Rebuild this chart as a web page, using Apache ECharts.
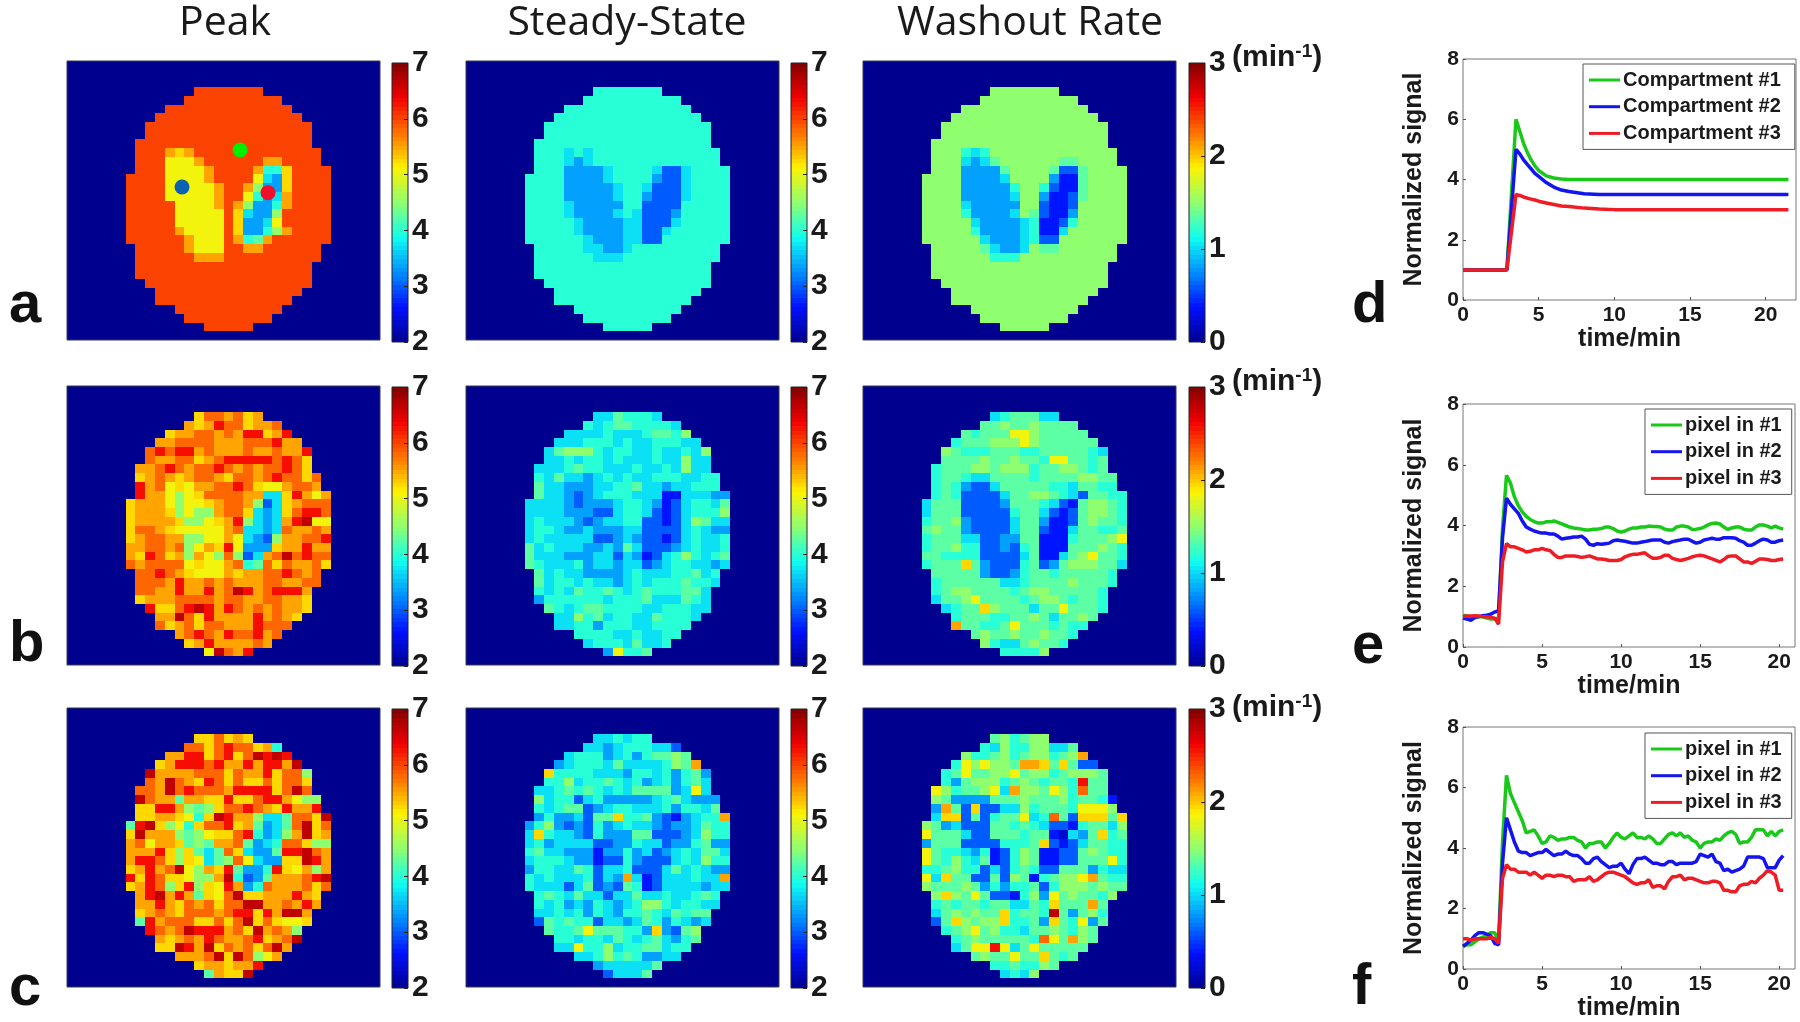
<!DOCTYPE html>
<html>
<head>
<meta charset="utf-8">
<title>Peak, steady-state and washout maps</title>
<script src="https://cdn.jsdelivr.net/npm/echarts@6/dist/echarts.min.js"></script>
<style>
	html, body { margin: 0; padding: 0; background: #fff; }
	#main { width: 1800px; height: 1022px; filter: blur(0.6px); }
</style>
</head>
<body>
<div id="main"></div>
<script>
// map rows: each char is a level code (see levelFractions), '.' is outside the head
// rows start at matrix row 3, columns at matrix column 6, the matrix is 32x32
var levelCodes = '0123456789abcdefg';
var levelFractions = [0, 0.07, 0.13, 0.2, 0.27, 0.34, 0.4, 0.45, 0.5, 0.61, 0.65, 0.7, 0.76, 0.86, 0.93, 1, 0.8];

var peakA = [
	'.......ggggggg.......', '......gggggggggg.....', '....ggggggggggggg....', '...ggggggggggggggg...',
	'..ggggggggggggggggg..', '..ggggggggggggggggg..', '.gggggggggggggggggg..', '.gggbabggggggggggggg.',
	'.ggg999bggggggbbgggg.', '.ggg9999bggggb66agggg', 'gggg9999bgggg954agggg', 'gggg99999bggb844agggg',
	'gggg99999bgg9645bgggg', 'ggggg9999bgb8446bgggg', 'ggggg99999ga5448ggggg', 'ggggg99999ga4459ggggg',
	'gggggb9999ga4468bgggg', 'ggggggb999gb67bgggggg', '.gggggb999ggbbgggggg.', '.ggggggbbbgggggggggg.',
	'.gggggggggggggggggg..', '.gggggggggggggggggg..', '..ggggggggggggggggg..', '...ggggggggggggggg...',
	'...gggggggggggggg....', '.....ggggggggggg.....', '......ggggggggg......', '........ggggg........'
];
var peakB = [
	'.......accbcab.......', '......babdccabbc.....', '....abbccbcbddabd....', '...bbccccbbbcccdbb...',
	'..cdcddbcbbbcbbcbbd..', '..cbbccabcdddddcdca..', '.bbcdcbccdcbcbccdca..', '.abcbabccbaccbcdccac.',
	'.dbc9a9bbccdca99bccb.', '.dbb989accccbb55adb9b', 'abbb9899abccb835abccc', 'abbba8988bcca545acddc',
	'abbbba889abd8545bde99', 'accba99999bc5545cbbcb', 'abccbb8899b95438bbccd', 'bbccbc89bad9444abbdbb',
	'badcab8b98c835bcecdcc', 'cbcccc9a99bc67cacbbca', '.ccdcba999babbccdcbc.', '.cccbdbbcbcbbbccbbcc.',
	'.ccbbdbbdbcedbcdddb..', '.abbbccccbccbbccbba..', '..daacdedbdcbcbcbba..', '...bbecadbbbbdbcba...',
	'...cabcaccbbbdccc....', '.....bcdcbdccdbc.....', '......abdbbbbcb......', '........9ecbd........'
];
var peakC = [
	'.......aacaba........', '......ccacdccab6.....', '....bbddacdaceded....', '...abdddcdbbdbddbe...',
	'..ebbbbcccacbbdacc8..', '..cbecbadcacaacacca..', '.ccbecdcccbddddacec..', '.ecbb7bbaadaacddb988.',
	'.aaddb878accdcbadbbd.', '.aabba96aedbb8557ccae', '7dea896accdab7457ceac', 'aebbb8789aacd6458beab',
	'bc9bba787bbc7456cca88', 'bbbda8a757ca5447ddecb', 'bddca8a9578c9544aaedb', 'abdbce98bad7446da9b8b',
	'dadcaa988be6347bbbcde', 'abdc8ad8a9db46cbbbcac', '.bdebdb7a9ceaabbbdba.', '.bbdbacbcacceebbcbdb.',
	'.abcbacccbcddadbeeb..', '.7dbcccaacaceaca99a..', '..dcbcedddbcaebcb8...', '...babcbdcbbcdabce...',
	'...aaedbeacbcaceb....', '.....bbbceaec89b.....', '.......abbabbd.......', '........7baae........'
];
var steadyA = [
	'.......6666666.......', '......6666666666.....', '....6666666666666....', '...666666666666666...',
	'..66666666666666666..', '..66666666666666666..', '.666666666666666666..', '.6665656666666666666.',
	'.6665456666666666666.', '.66644445666653356666', '666644445666643356666', '666644444566533356666',
	'666644444566433356666', '666654444466333366666', '666654444565333466666', '666665444455333566666',
	'666665444455335666666', '666666544455336666666', '.6666655445666666666.', '.6666665556666666666.',
	'.666666666666666666..', '.666666666666666666..', '..66666666666666666..', '...666666666666666...',
	'...66666666666666....', '.....66666666666.....', '......666666666......', '........66666........'
];
var steadyB = [
	'.......5576665.......', '......6567766665.....', '....5555655567768....', '...555666565566655...',
	'..57888656655655658..', '..55656656555655855..', '.555676655565565855..', '.6575545656556665566.',
	'.7554445566755455666.', '.75543456665552255544', '555543444566542356657', '555544433566532356668',
	'565554345566332358755', '566544544455333356544', '565555533454332356556', '756555445475333456556',
	'755544455354235686567', '765556455455345665545', '.7565544445655566756.', '.7566565545656667665.',
	'.656576676567666775..', '.466666656667555765..', '..76567766665566655..', '...558675665576665...',
	'...55664666556666....', '.....66665565566.....', '......566657556......', '........49667........'
];
var steadyC = [
	'.......556566........', '......5545666553.....', '....5666456467787....', '...45666575555687b...',
	'..a6666555466564674..', '..66856676564564675..', '.556767656577774595..', '.8566356444445675444.',
	'.6567734566555646657.', '.46445377a6674324566b', '468434364565543445766', '5a6554364447733345866',
	'564555533446553446744', '675544424464534565775', '566654423364333565866', '466557635563335756544',
	'6565556354b523555655b', '655535734376235555455', '.6765755355755655676.', '.6564546545688656655.',
	'.556564654667657677..', '.376766355457646545..', '..76679777664a4378...', '...665665765675467...',
	'...55966856677566....', '.....55686764455.....', '.......4555557.......', '........35557........'
];
var washoutA = [
	'.......8888888.......', '......8888888888.....', '....8888888888888....', '...888888888888888...',
	'..88888888888888888..', '..88888888888888888..', '.888888888888888888..', '.8886568888888888888.',
	'.8885457888888778888.', '.88844447888873378888', '888844445888842278888', '888844444688632278888',
	'888844444588422378888', '888854444488322388888', '888864444587322488888', '888885444456223688888',
	'888886444456225888888', '888888544456338888888', '.8888875445877888888.', '.8888886668888888888.',
	'.888888888888888888..', '.888888888888888888..', '..88888888888888888..', '...888888888888888...',
	'...88888888888888....', '.....88888888888.....', '......888888888......', '........88888........'
];
var washoutB = [
	'.......5677755.......', '......7787787777.....', '....7677799877777....', '...677788898777777...',
	'..87666777667777765..', '..77778778776997767..', '.677788788867788767..', '.6776557777677778877.',
	'.6764335777776657766.', '.67633335778876537766', '577733334777653278876', '577733333677532378876',
	'677843333577422378776', '787743333577322577667', '677755334477222677789', '677866334367222777876',
	'776666333357225789776', '6777a7433367347888775', '.7777743346776777776.', '.6777777556777787776.',
	'.678877776788777776..', '.577897777678876776..', '..5677a877757797776..', '...677766778757787...',
	'...b7766797776766....', '.....78778778776.....', '......865578776......', '........66668........'
];
var washoutC = [
	'.......786788........', '......6586688557.....', '....866786788678b....', '...6989887bba7a733...',
	'..67977889788678887..', '..64788867876776d77..', '.98677895b887986c77..', '.8744447778777867762.',
	'.4b73a33558677769998.', '.5aa373677956c73aaa7a', '874533377676533267758', '977753377767721547a67',
	'477733336667a32357766', '976654623687223378766', '976865723687223377796', '667866353676337774655',
	'95a77337387267889b766', '877787464667368887877', '.8a87973326849787768.', '.676776775576a777b7..',
	'.5787877a6776e74786..', '.37a8788a6674a76947..', '..6789786657787687...', '...678777776c97b87...',
	'...5799d957977777....', '.....7877977a767.....', '.......6676687.......', '........5658.........'
];

// the three marked points on the top left map, in matrix coordinates
var markerX = [17.7, 11.76, 20.55];
var markerY = [10.2, 14.45, 15.1];
var markerColors = ['#00ee00', '#0b62b0', '#f0102a'];

// curves of panel d
var timeD = [0, 1, 2, 2.9, 3.5, 3.75, 4, 4.25, 4.5, 4.75, 5, 5.5, 6, 6.5, 7, 8, 9, 10, 12, 15, 18, 21.5];
var greenD = [1, 1, 1, 1, 6, 5.6, 5.2, 4.9, 4.65, 4.45, 4.3, 4.12, 4.05, 4.02, 4, 4, 4, 4, 4, 4, 4, 4];
var blueD = [1, 1, 1, 1, 5, 4.85, 4.65, 4.5, 4.35, 4.2, 4.1, 3.9, 3.75, 3.65, 3.6, 3.53, 3.5, 3.5, 3.5, 3.5, 3.5, 3.5];
var redD = [1, 1, 1, 1, 3.5, 3.47, 3.42, 3.38, 3.35, 3.32, 3.28, 3.22, 3.17, 3.12, 3.1, 3.05, 3.02, 3, 3, 3, 3, 3];

// curves of panels e and f, sampled every quarter minute
var timeNoisy = [
	0, 0.25, 0.5, 0.75, 1, 1.25, 1.5, 1.75, 2, 2.25, 2.5, 2.75, 3, 3.25, 3.5, 3.75, 4, 4.25, 4.5, 4.75,
	5, 5.25, 5.5, 5.75, 6, 6.25, 6.5, 6.75, 7, 7.25, 7.5, 7.75, 8, 8.25, 8.5, 8.75, 9, 9.25, 9.5, 9.75,
	10, 10.25, 10.5, 10.75, 11, 11.25, 11.5, 11.75, 12, 12.25, 12.5, 12.75, 13, 13.25, 13.5, 13.75, 14, 14.25, 14.5, 14.75,
	15, 15.25, 15.5, 15.75, 16, 16.25, 16.5, 16.75, 17, 17.25, 17.5, 17.75, 18, 18.25, 18.5, 18.75, 19, 19.25, 19.5, 19.75,
	20, 20.25
];
var greenE = [
	1.05, 1.02, 1.0, 1.0, 1.0, 1.0, 0.95, 0.92, 0.92, 0.95, 3.9, 5.65, 5.4, 4.95, 4.65, 4.45,
	4.3, 4.2, 4.13, 4.08, 4.08, 4.12, 4.12, 4.15, 4.1, 4.05, 4.0, 3.95, 3.92, 3.9, 3.88, 3.85,
	3.85, 3.88, 3.88, 3.9, 3.95, 3.95, 3.9, 3.82, 3.78, 3.82, 3.88, 3.92, 3.92, 3.95, 3.95, 3.98,
	3.97, 3.97, 3.95, 3.88, 3.85, 3.85, 3.95, 3.98, 3.98, 3.95, 3.87, 3.88, 3.9, 3.95, 4.02, 4.07,
	4.08, 4.05, 3.95, 3.87, 3.92, 3.95, 3.95, 3.88, 3.85, 3.85, 3.95, 4.02, 4.02, 3.98, 3.92, 3.98,
	3.92, 3.88
];
var blueE = [
	0.95, 0.92, 0.88, 0.97, 1.0, 1.03, 1.05, 1.08, 1.15, 1.2, 3.6, 4.9, 4.7, 4.55, 4.4, 4.15,
	3.95, 3.88, 3.82, 3.78, 3.75, 3.75, 3.72, 3.72, 3.65, 3.55, 3.58, 3.6, 3.62, 3.62, 3.65, 3.55,
	3.38, 3.35, 3.4, 3.38, 3.4, 3.42, 3.5, 3.52, 3.5, 3.48, 3.45, 3.42, 3.42, 3.45, 3.47, 3.5,
	3.52, 3.52, 3.52, 3.45, 3.42, 3.47, 3.5, 3.52, 3.55, 3.55, 3.48, 3.42, 3.45, 3.52, 3.55, 3.58,
	3.55, 3.55, 3.6, 3.6, 3.6, 3.58, 3.5, 3.45, 3.35, 3.35, 3.42, 3.5, 3.55, 3.52, 3.45, 3.45,
	3.5, 3.52
];
var redE = [
	1.0, 1.02, 1.02, 1.03, 1.02, 1.0, 1.0, 0.98, 0.95, 0.75, 2.8, 3.4, 3.3, 3.3, 3.25, 3.2,
	3.13, 3.15, 3.2, 3.2, 3.25, 3.2, 3.18, 3.05, 2.95, 2.95, 3.0, 3.0, 3.0, 2.98, 2.95, 2.97,
	3.0, 2.95, 2.9, 2.9, 2.88, 2.85, 2.85, 2.85, 2.88, 2.97, 3.02, 3.05, 3.05, 3.08, 3.1, 3.0,
	2.92, 2.92, 2.95, 3.02, 3.02, 2.92, 2.88, 2.85, 2.88, 2.92, 2.97, 3.0, 3.02, 3.0, 2.95, 2.9,
	2.85, 2.8, 2.88, 2.98, 3.0, 3.0, 2.9, 2.8, 2.8, 2.75, 2.82, 2.9, 2.9, 2.88, 2.85, 2.85,
	2.88, 2.9
];
var greenF = [
	0.75, 0.8, 0.8, 0.9, 1.0, 1.05, 1.1, 1.2, 1.2, 0.95, 4.2, 6.4, 5.8, 5.5, 5.2, 4.9,
	4.5, 4.55, 4.6, 4.4, 4.15, 4.2, 4.4, 4.35, 4.25, 4.3, 4.3, 4.35, 4.35, 4.25, 4.2, 4.0,
	4.15, 4.15, 4.2, 4.2, 4.0, 4.15, 4.35, 4.5, 4.35, 4.3, 4.4, 4.5, 4.35, 4.35, 4.3, 4.4,
	4.3, 4.15, 4.15, 4.3, 4.45, 4.5, 4.4, 4.5, 4.35, 4.4, 4.25, 4.2, 4.0, 4.15, 4.2, 4.2,
	4.3, 4.25, 4.4, 4.5, 4.55, 4.45, 4.15, 4.2, 4.2, 4.35, 4.6, 4.6, 4.6, 4.4, 4.55, 4.4,
	4.55, 4.6
];
var blueF = [
	0.75, 0.85, 0.95, 1.1, 1.2, 1.2, 1.15, 1.1, 0.85, 0.8, 3.5, 5.0, 4.6, 4.2, 3.9, 3.85,
	3.85, 3.75, 3.8, 3.85, 3.85, 3.95, 3.85, 3.75, 3.8, 3.8, 3.9, 3.8, 3.75, 3.75, 3.65, 3.5,
	3.5, 3.65, 3.7, 3.55, 3.45, 3.35, 3.4, 3.4, 3.5, 3.3, 3.15, 3.45, 3.65, 3.65, 3.7, 3.6,
	3.5, 3.5, 3.45, 3.45, 3.55, 3.55, 3.45, 3.5, 3.5, 3.5, 3.5, 3.55, 3.8, 3.75, 3.7, 3.8,
	3.55, 3.5, 3.25, 3.3, 3.2, 3.25, 3.3, 3.4, 3.7, 3.7, 3.7, 3.7, 3.65, 3.35, 3.35, 3.35,
	3.6, 3.75
];
var redF = [
	1.0, 1.0, 0.95, 1.0, 1.0, 1.0, 1.0, 1.05, 1.0, 0.85, 3.0, 3.45, 3.3, 3.3, 3.2, 3.2,
	3.2, 3.1, 3.2, 3.1, 3.0, 3.1, 3.1, 3.05, 3.1, 3.1, 3.05, 3.05, 2.9, 2.95, 2.95, 2.95,
	3.05, 2.9, 2.95, 3.05, 3.15, 3.2, 3.2, 3.15, 3.1, 3.05, 2.95, 2.85, 2.8, 2.85, 2.85, 2.95,
	2.7, 2.75, 2.75, 2.65, 2.9, 3.05, 3.05, 3.1, 2.95, 3.0, 3.0, 2.95, 2.9, 2.85, 2.85, 2.9,
	2.9, 2.85, 2.6, 2.6, 2.55, 2.55, 2.75, 2.8, 2.8, 2.9, 2.85, 3.0, 3.1, 3.25, 3.2, 3.1,
	2.6, 2.6
];

var columnTitles = ['Peak', 'Steady-State', 'Washout Rate'];
var panelLetters = ['a', 'b', 'c', 'd', 'e', 'f'];
var namesD = ['Compartment #1', 'Compartment #2', 'Compartment #3'];
var namesPixel = ['pixel in #1', 'pixel in #2', 'pixel in #3'];
var peakTicks = [2, 7];
var washoutTicks = [0, 3];

var JET = ['#00008f', '#0010ff', '#008fff', '#10fff0', '#8fff70', '#fff200', '#ff7000', '#f20000', '#800000'];
var LINE_COLORS = ['#19c819', '#1414ee', '#ee1c25'];
var ARIAL = '"Liberation Sans", Arial, sans-serif';

var mapLeft = [67, 466, 863];
var mapTop = [61, 386, 708];
var barLeft = [392, 791, 1189];
var barTop = [63, 387, 709];

var grids = [], xAxes = [], yAxes = [], series = [], legends = [], graphics = [];
var mapIdx = [[], []];

function addGrid(box) {
	grids.push(box);
	return grids.length - 1;
}

function range(n) {
	var out = [];
	for (var i = 0; i < n; i++) out.push(i);
	return out;
}

// cells snapped to whole pixels, so no seams between them
function renderCell(params, api) {
	var p = api.coord([api.value(0), api.value(1)]);
	var s = api.size([1, 1]);
	var x0 = Math.round(p[0] - s[0] / 2);
	var x1 = Math.round(p[0] + s[0] / 2);
	var y0 = Math.round(p[1] - s[1] / 2);
	var y1 = Math.round(p[1] + s[1] / 2);
	return {
		type: 'rect',
		shape: { x: x0, y: y0, width: x1 - x0, height: y1 - y0 },
		style: { fill: api.visual('color') }
	};
}

function drawMap(rows, left, top, ticks, vm) {
	var g = addGrid({ left: left, top: top, width: 313, height: 279, z: 5, show: true, backgroundColor: 'transparent', borderColor: '#3a3a50', borderWidth: 1 });
	xAxes.push({ type: 'category', gridIndex: g, show: false, data: range(32) });
	yAxes.push({ type: 'category', gridIndex: g, show: false, inverse: true, data: range(32) });
	var cells = [];
	for (var r = 0; r < 32; r++) {
		for (var c = 0; c < 32; c++) {
			var row = rows[r - 3];
			var code = row ? row.charAt(c - 6) : '.';
			var k = levelCodes.indexOf(code);
			var frac = k < 0 ? 0 : levelFractions[k];
			cells.push([c, r, ticks[0] + frac * (ticks[1] - ticks[0])]);
		}
	}
	mapIdx[vm].push(series.length);
	series.push({ type: 'custom', renderItem: renderCell, xAxisIndex: xAxes.length - 1, yAxisIndex: yAxes.length - 1, encode: { x: 0, y: 1 }, data: cells, progressive: 0, silent: true });
}

function drawBar(left, top, ticks, vm) {
	var g = addGrid({ left: left, top: top, width: 16, height: 279, z: 5, show: true, backgroundColor: 'transparent', borderColor: '#222', borderWidth: 1 });
	xAxes.push({ type: 'category', gridIndex: g, show: false, data: [0] });
	yAxes.push({ type: 'category', gridIndex: g, show: false, data: range(64) });
	var yCat = yAxes.length - 1;
	yAxes.push({
		type: 'value', gridIndex: g, position: 'right', min: ticks[0], max: ticks[1], interval: 1, z: 6,
		axisLine: { show: false },
		axisTick: { show: true, inside: true, length: 4, lineStyle: { color: '#222' } },
		splitLine: { show: false },
		axisLabel: { margin: 4, color: '#1a1a1a', fontFamily: ARIAL, fontSize: 30, fontWeight: 'bold' }
	});
	var cells = range(64).map(function (k) {
		return [0, k, ticks[0] + (k + 0.5) / 64 * (ticks[1] - ticks[0])];
	});
	mapIdx[vm].push(series.length);
	series.push({ type: 'custom', renderItem: renderCell, xAxisIndex: xAxes.length - 1, yAxisIndex: yCat, encode: { x: 0, y: 1 }, data: cells, progressive: 0, silent: true });
}

function drawLines(box, xMax, times, curves, names, legendBox) {
	var g = addGrid({ left: box[0], top: box[1], width: box[2], height: box[3], show: true, borderColor: '#777', borderWidth: 1 });
	var tickStyle = { show: true, inside: true, length: 3, lineStyle: { color: '#555' } };
	xAxes.push({
		type: 'value', gridIndex: g, min: 0, max: xMax, interval: 5,
		name: 'time/min', nameLocation: 'middle', nameGap: 26,
		nameTextStyle: { color: '#1a1a1a', fontFamily: ARIAL, fontSize: 25, fontWeight: 'bold' },
		axisLine: { show: false }, axisTick: tickStyle, splitLine: { show: false },
		axisLabel: { margin: 5, showMaxLabel: false, color: '#1a1a1a', fontFamily: ARIAL, fontSize: 21, fontWeight: 'bold' }
	});
	yAxes.push({
		type: 'value', gridIndex: g, min: 0, max: 8, interval: 2,
		name: 'Normalized signal', nameLocation: 'middle', nameGap: 36,
		nameTextStyle: { color: '#1a1a1a', fontFamily: ARIAL, fontSize: 25, fontWeight: 'bold' },
		axisLine: { show: false }, axisTick: tickStyle, splitLine: { show: false },
		axisLabel: { margin: 4, color: '#1a1a1a', fontFamily: ARIAL, fontSize: 21, fontWeight: 'bold' }
	});
	curves.forEach(function (values, i) {
		series.push({
			type: 'line', name: names[i], xAxisIndex: xAxes.length - 1, yAxisIndex: yAxes.length - 1,
			symbol: 'none', silent: true,
			itemStyle: { color: LINE_COLORS[i] }, lineStyle: { color: LINE_COLORS[i], width: 3.5 },
			data: values.map(function (v, j) { return [times[j], v]; })
		});
	});
	legends.push({
		data: names, orient: 'vertical', left: legendBox[0], top: legendBox[1], padding: legendBox[2],
		icon: 'rect', itemWidth: 31, itemHeight: 3, itemGap: 6.7, selectedMode: false,
		backgroundColor: '#fff', borderColor: '#555', borderWidth: 1,
		textStyle: { color: '#1a1a1a', fontFamily: ARIAL, fontSize: 20, fontWeight: 'bold', padding: [0, 0, 0, -2] }
	});
}

var peakRows = [peakA, peakB, peakC];
var steadyRows = [steadyA, steadyB, steadyC];
var washoutRows = [washoutA, washoutB, washoutC];

for (var row = 0; row < 3; row++) {
	drawMap(peakRows[row], mapLeft[0], mapTop[row], peakTicks, 0);
	drawMap(steadyRows[row], mapLeft[1], mapTop[row], peakTicks, 0);
	drawMap(washoutRows[row], mapLeft[2], mapTop[row], washoutTicks, 1);
	drawBar(barLeft[0], barTop[row], peakTicks, 0);
	drawBar(barLeft[1], barTop[row], peakTicks, 0);
	drawBar(barLeft[2], barTop[row], washoutTicks, 1);
}

// marked points sit on hidden value axes of the first map
xAxes.push({ type: 'value', gridIndex: 0, show: false, min: 0, max: 32 });
yAxes.push({ type: 'value', gridIndex: 0, show: false, min: 0, max: 32, inverse: true });
markerX.forEach(function (mx, i) {
	series.push({
		type: 'scatter', xAxisIndex: xAxes.length - 1, yAxisIndex: yAxes.length - 1, z: 4, silent: true,
		symbolSize: 15, itemStyle: { color: markerColors[i], opacity: 1 }, data: [[mx, markerY[i]]]
	});
});

drawLines([1463, 59, 333, 241], 22, timeD, [greenD, blueD, redD], namesD, [1583, 64, [6, 14, 6, 6]]);
drawLines([1463, 404, 332, 243], 21, timeNoisy, [greenE, blueE, redE], namesPixel, [1645, 409, [6, 10, 6, 6]]);
drawLines([1463, 727, 332, 242], 21, timeNoisy, [greenF, blueF, redF], namesPixel, [1645, 733, [6, 10, 6, 6]]);

// column titles
[225, 627, 1030].forEach(function (x, i) {
	graphics.push({ type: 'text', x: x, y: 23, style: { text: columnTitles[i], font: '41px "Open Sans", sans-serif', fill: '#1a1a1a', textAlign: 'center', textVerticalAlign: 'middle' } });
});

// panel letters
[[9, 306], [9, 645], [9, 989], [1352, 306], [1352, 647], [1352, 988]].forEach(function (p, i) {
	graphics.push({ type: 'text', x: p[0], y: p[1], style: { text: panelLetters[i], font: 'bold 58px ' + ARIAL, fill: '#111', textVerticalAlign: 'middle' } });
});

// unit next to the washout colorbars
[58, 382, 708].forEach(function (y) {
	graphics.push({
		type: 'text', x: 1232, y: y,
		style: {
			text: '{a|(min}{s|-1}{a|)}', fill: '#1a1a1a', textVerticalAlign: 'middle',
			rich: {
				a: { font: 'bold 30px ' + ARIAL, fill: '#1a1a1a' },
				s: { font: 'bold 19px ' + ARIAL, fill: '#1a1a1a', padding: [0, 0, 12, 0] }
			}
		}
	});
});

var option = {
	animation: false,
	backgroundColor: '#fff',
	grid: grids,
	xAxis: xAxes,
	yAxis: yAxes,
	legend: legends,
	graphic: graphics,
	visualMap: [
		{ show: false, type: 'continuous', dimension: 2, min: peakTicks[0], max: peakTicks[1], seriesIndex: mapIdx[0], inRange: { color: JET } },
		{ show: false, type: 'continuous', dimension: 2, min: washoutTicks[0], max: washoutTicks[1], seriesIndex: mapIdx[1], inRange: { color: JET } }
	],
	series: series
};

var myChart = echarts.init(document.getElementById('main'));
myChart.setOption(option);
</script>
</body>
</html>
